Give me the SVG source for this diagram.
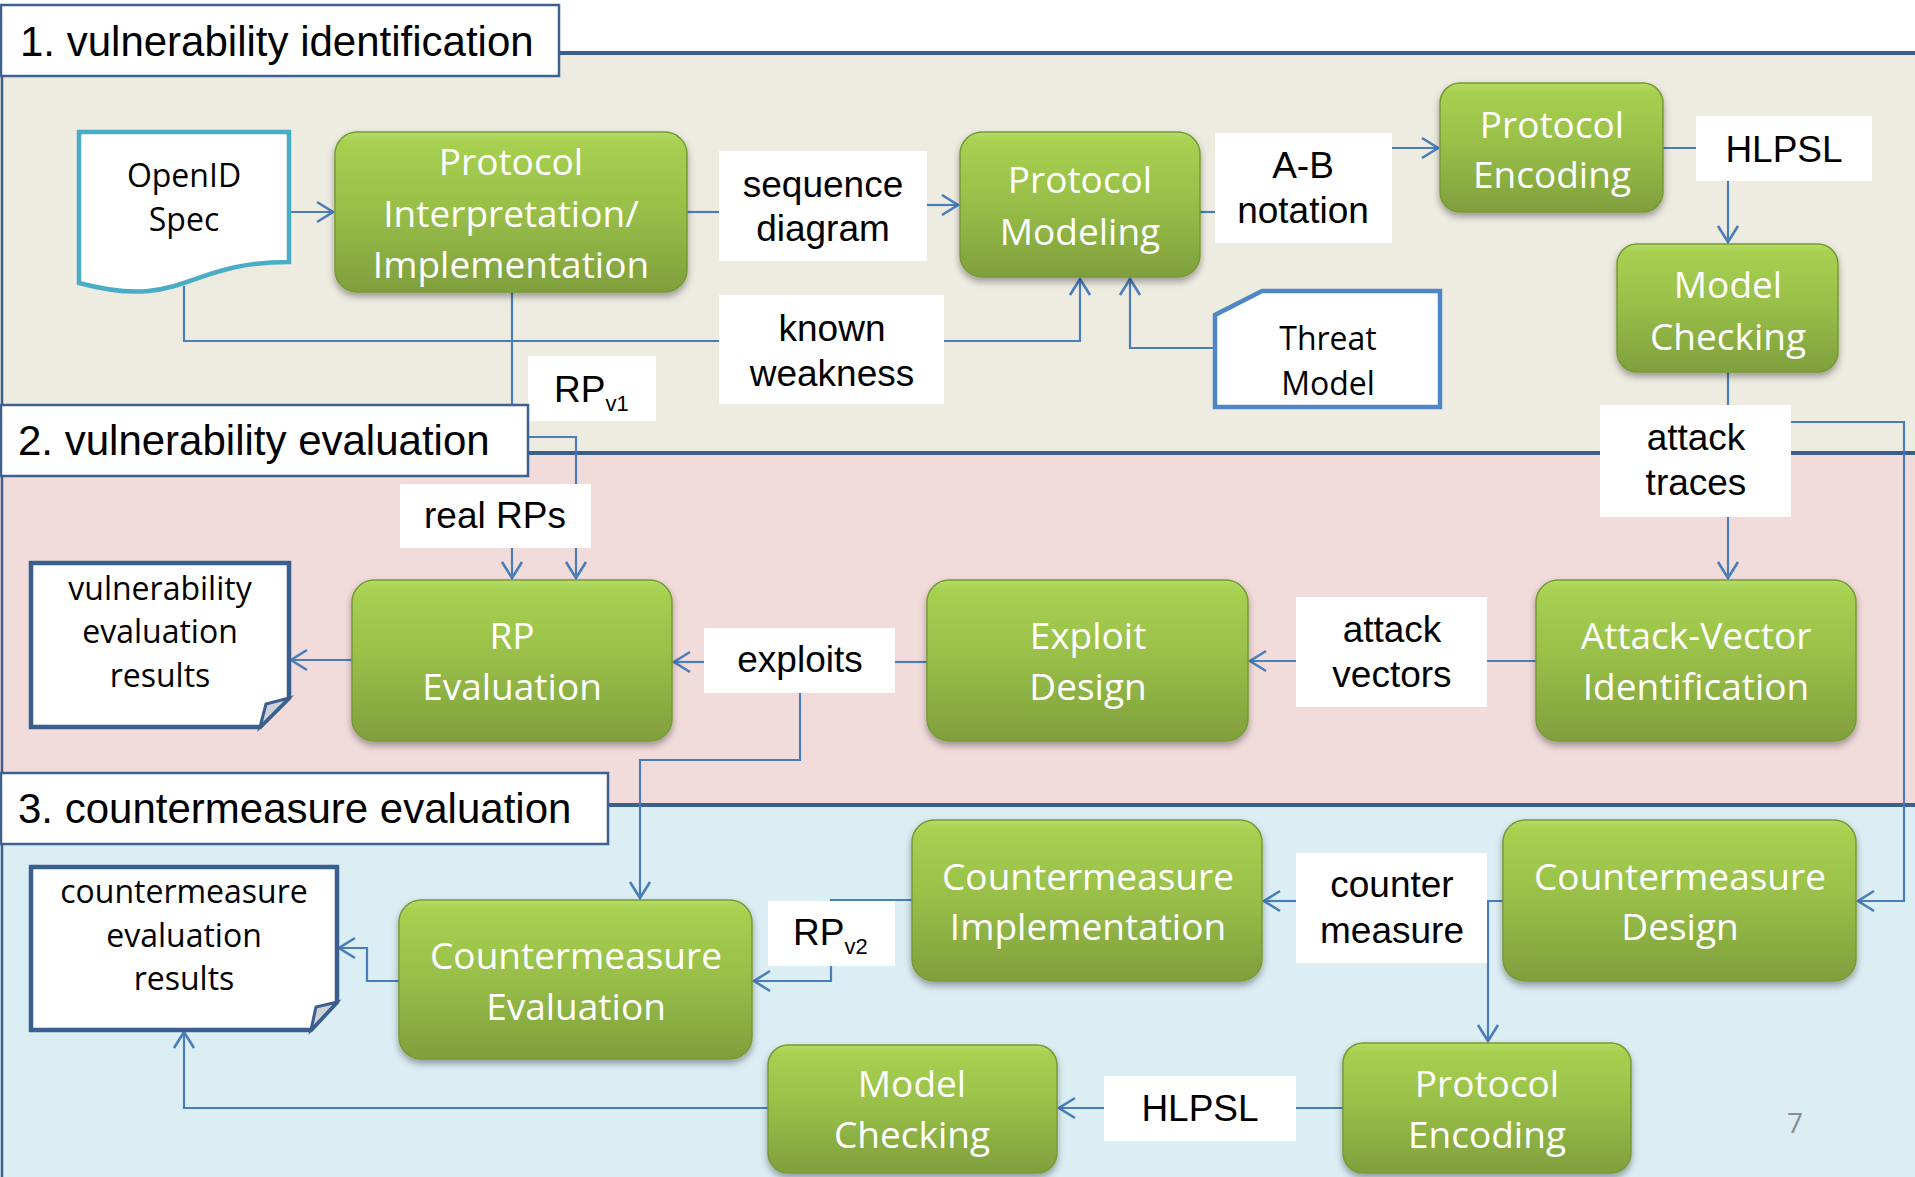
<svg xmlns="http://www.w3.org/2000/svg" width="1915" height="1177" viewBox="0 0 1915 1177">
<defs>
<linearGradient id="g" x1="0" y1="0" x2="0" y2="1">
<stop offset="0" stop-color="#b4dc62"/>
<stop offset="0.07" stop-color="#a7d051"/>
<stop offset="0.5" stop-color="#98be48"/>
<stop offset="1" stop-color="#7f9f3d"/>
</linearGradient>
<filter id="sh" x="-10%" y="-10%" width="120%" height="130%">
<feDropShadow dx="0" dy="4" stdDeviation="3.5" flood-color="#000" flood-opacity="0.35"/>
</filter>
<marker id="a" markerUnits="userSpaceOnUse" markerWidth="22" markerHeight="26" viewBox="0 0 22 26" refX="19" refY="13" orient="auto">
<path d="M3,3 L19,13 L3,23" fill="none" stroke="#4a7ebb" stroke-width="2.6"/>
</marker>
<style>
.c{fill:none;stroke:#4a7ebb;stroke-width:2.2}
.n{fill:url(#g);stroke:#789a36;stroke-width:1.5;filter:url(#sh)}
.nt{font-family:"Open Sans","Noto Sans",sans-serif;font-size:37px;fill:#fff;text-anchor:middle}
.lb{fill:#fff}
.lt{font-family:"Liberation Sans",Arial,sans-serif;font-size:37px;fill:#000;text-anchor:middle}
.ls{font-family:"Liberation Sans",Arial,sans-serif;font-size:37px;fill:#000;text-anchor:start}
.sub{font-size:22px}
.tb{fill:#fff;stroke:#3e6290;stroke-width:2.5}
.tt{font-family:"Liberation Sans",Arial,sans-serif;font-size:42px;fill:#000}
.dt{font-family:"Open Sans","Noto Sans",sans-serif;font-size:32px;fill:#000;text-anchor:middle}
.bl{stroke:#3c5f8c;stroke-width:4}
</style>
</defs>
<rect x="0" y="0" width="1915" height="1177" fill="#fff"/>
<g id="bands">
<rect x="0" y="53" width="1915" height="400" fill="#eeebe1"/>
<rect x="0" y="453" width="1915" height="352" fill="#f2dcdb"/>
<rect x="0" y="805" width="1915" height="372" fill="#dbeef4"/>
<line class="bl" x1="0" y1="53" x2="1915" y2="53"/>
<line class="bl" x1="0" y1="453" x2="1915" y2="453"/>
<line class="bl" x1="0" y1="805" x2="1915" y2="805"/>
<line x1="2" y1="53" x2="2" y2="1177" stroke="#3c5f8c" stroke-width="2.5"/>
</g>
<g id="connectors">
<path class="c" d="M289,212 H333" marker-end="url(#a)"/>
<path class="c" d="M687,212 H719"/>
<path class="c" d="M927,205 H958" marker-end="url(#a)"/>
<path class="c" d="M1200,212 H1215"/>
<path class="c" d="M1392,148 H1438" marker-end="url(#a)"/>
<path class="c" d="M1663,148 H1696"/>
<path class="c" d="M1728,181 V242" marker-end="url(#a)"/>
<path class="c" d="M1728,372 V405"/>
<path class="c" d="M1728,517 V578" marker-end="url(#a)"/>
<path class="c" d="M1791,422 H1904 V901 H1858" marker-end="url(#a)"/>
<path class="c" d="M184,286 V341 H719"/>
<path class="c" d="M944,341 H1080 V279" marker-end="url(#a)"/>
<path class="c" d="M1215,348 H1130 V279" marker-end="url(#a)"/>
<path class="c" d="M512,292 V437 H576 V578" marker-end="url(#a)"/>
<path class="c" d="M512,548 V578" marker-end="url(#a)"/>
<path class="c" d="M352,660 H291" marker-end="url(#a)"/>
<path class="c" d="M704,662 H674" marker-end="url(#a)"/>
<path class="c" d="M927,662 H895"/>
<path class="c" d="M1296,661 H1250" marker-end="url(#a)"/>
<path class="c" d="M1536,661 H1487"/>
<path class="c" d="M800,693 V760 H640 V898" marker-end="url(#a)"/>
<path class="c" d="M1503,901 H1488 V1041" marker-end="url(#a)"/>
<path class="c" d="M1296,901 H1264" marker-end="url(#a)"/>
<path class="c" d="M912,900 H831 V981 H754" marker-end="url(#a)"/>
<path class="c" d="M399,981 H367 V948 H339" marker-end="url(#a)"/>
<path class="c" d="M1343,1108 H1296"/>
<path class="c" d="M1104,1108 H1059" marker-end="url(#a)"/>
<path class="c" d="M768,1108 H184 V1032" marker-end="url(#a)"/>
</g>
<g id="labels">
<g id="lbl-seq"><rect class="lb" x="719" y="151" width="208" height="110"/><text class="lt" x="823" y="197">sequence</text><text class="lt" x="823" y="241">diagram</text></g>
<g id="lbl-ab"><rect class="lb" x="1215" y="133" width="177" height="110"/><text class="lt" x="1303" y="178">A-B</text><text class="lt" x="1303" y="223">notation</text></g>
<g id="lbl-hlpsl1"><rect class="lb" x="1696" y="116" width="176" height="65"/><text class="lt" x="1784" y="162">HLPSL</text></g>
<g id="lbl-known"><rect class="lb" x="719" y="295" width="225" height="109"/><text class="lt" x="832" y="341">known</text><text class="lt" x="832" y="386">weakness</text></g>
<g id="lbl-rpv1"><rect class="lb" x="528" y="356" width="128" height="65"/><text class="ls" x="554" y="402">RP<tspan class="sub" dy="9">v1</tspan></text></g>
<g id="lbl-traces"><rect class="lb" x="1600" y="405" width="191" height="112"/><text class="lt" x="1696" y="450">attack</text><text class="lt" x="1696" y="495">traces</text></g>
<g id="lbl-real"><rect class="lb" x="400" y="484" width="191" height="64"/><text class="lt" x="495" y="528">real RPs</text></g>
<g id="lbl-exploits"><rect class="lb" x="704" y="628" width="191" height="65"/><text class="lt" x="800" y="672">exploits</text></g>
<g id="lbl-vectors"><rect class="lb" x="1296" y="597" width="191" height="110"/><text class="lt" x="1392" y="642">attack</text><text class="lt" x="1392" y="687">vectors</text></g>
<g id="lbl-counter"><rect class="lb" x="1296" y="853" width="191" height="110"/><text class="lt" x="1392" y="897">counter</text><text class="lt" x="1392" y="943">measure</text></g>
<g id="lbl-rpv2"><rect class="lb" x="768" y="901" width="127" height="65"/><text class="ls" x="793" y="945">RP<tspan class="sub" dy="9">v2</tspan></text></g>
<g id="lbl-hlpsl2"><rect class="lb" x="1104" y="1076" width="192" height="65"/><text class="lt" x="1200" y="1121">HLPSL</text></g>
</g>
<g id="doc-openid">
<path d="M79,132 H289 V262 C184,262 184,311 79,283 Z" fill="#fff" stroke="#4bacc6" stroke-width="4.5"/>
<text class="dt" x="184" y="187">OpenID</text><text class="dt" x="184" y="231">Spec</text>
</g>
<g id="doc-threat">
<path d="M1262,291 H1440 V407 H1215 V315 Z" fill="#fff" stroke="#4f86c6" stroke-width="4.5"/>
<text class="dt" x="1328" y="350">Threat</text><text class="dt" x="1328" y="395">Model</text>
</g>
<g id="doc-vresults">
<path d="M31,563 H289 V698 L260,727 H31 Z" fill="#fff" stroke="#3a5f8f" stroke-width="4.5"/>
<path d="M260,727 L266,704 L289,698 Z" fill="#cdd1d8" stroke="#3a5f8f" stroke-width="3"/>
<text class="dt" x="160" y="600">vulnerability</text><text class="dt" x="160" y="643">evaluation</text><text class="dt" x="160" y="687">results</text>
</g>
<g id="doc-cresults">
<path d="M31,867 H337 V1002 L311,1030 H31 Z" fill="#fff" stroke="#3a5f8f" stroke-width="4.5"/>
<path d="M311,1030 L316,1007 L337,1002 Z" fill="#cdd1d8" stroke="#3a5f8f" stroke-width="3"/>
<text class="dt" x="184" y="903">countermeasure</text><text class="dt" x="184" y="947">evaluation</text><text class="dt" x="184" y="990">results</text>
</g>
<g id="node-pi"><rect class="n" x="335" y="132" width="352" height="160" rx="22"/><text class="nt" x="511" y="175">Protocol</text><text class="nt" x="511" y="227">Interpretation/</text><text class="nt" x="511" y="278">Implementation</text></g>
<g id="node-pm"><rect class="n" x="960" y="132" width="240" height="145" rx="22"/><text class="nt" x="1080" y="193">Protocol</text><text class="nt" x="1080" y="245">Modeling</text></g>
<g id="node-pe1"><rect class="n" x="1440" y="83" width="223" height="129" rx="20"/><text class="nt" x="1552" y="138">Protocol</text><text class="nt" x="1552" y="188">Encoding</text></g>
<g id="node-mc1"><rect class="n" x="1617" y="244" width="221" height="128" rx="20"/><text class="nt" x="1728" y="298">Model</text><text class="nt" x="1728" y="350">Checking</text></g>
<g id="node-rpe"><rect class="n" x="352" y="580" width="320" height="161" rx="22"/><text class="nt" x="512" y="649">RP</text><text class="nt" x="512" y="700">Evaluation</text></g>
<g id="node-ed"><rect class="n" x="927" y="580" width="321" height="161" rx="22"/><text class="nt" x="1088" y="649">Exploit</text><text class="nt" x="1088" y="700">Design</text></g>
<g id="node-avi"><rect class="n" x="1536" y="580" width="320" height="161" rx="22"/><text class="nt" x="1696" y="649">Attack-Vector</text><text class="nt" x="1696" y="700">Identification</text></g>
<g id="node-ci"><rect class="n" x="912" y="820" width="350" height="161" rx="22"/><text class="nt" x="1088" y="890">Countermeasure</text><text class="nt" x="1088" y="940">Implementation</text></g>
<g id="node-cd"><rect class="n" x="1503" y="820" width="353" height="161" rx="22"/><text class="nt" x="1680" y="890">Countermeasure</text><text class="nt" x="1680" y="940">Design</text></g>
<g id="node-ce"><rect class="n" x="399" y="900" width="353" height="159" rx="22"/><text class="nt" x="576" y="969">Countermeasure</text><text class="nt" x="576" y="1020">Evaluation</text></g>
<g id="node-mc2"><rect class="n" x="768" y="1045" width="289" height="128" rx="20"/><text class="nt" x="912" y="1097">Model</text><text class="nt" x="912" y="1148">Checking</text></g>
<g id="node-pe2"><rect class="n" x="1343" y="1043" width="288" height="130" rx="20"/><text class="nt" x="1487" y="1097">Protocol</text><text class="nt" x="1487" y="1148">Encoding</text></g>
<g id="title-1"><rect class="tb" x="1" y="5" width="558" height="71"/><text class="tt" x="20" y="56">1. vulnerability identification</text></g>
<g id="title-2"><rect class="tb" x="1" y="405" width="527" height="71"/><text class="tt" x="18" y="455">2. vulnerability evaluation</text></g>
<g id="title-3"><rect class="tb" x="1" y="773" width="607" height="71"/><text class="tt" x="18" y="823">3. countermeasure evaluation</text></g>
<text x="1795" y="1133" font-family="'Open Sans','Noto Sans',sans-serif" font-size="28" fill="#8c8c8c" text-anchor="middle">7</text>
</svg>
